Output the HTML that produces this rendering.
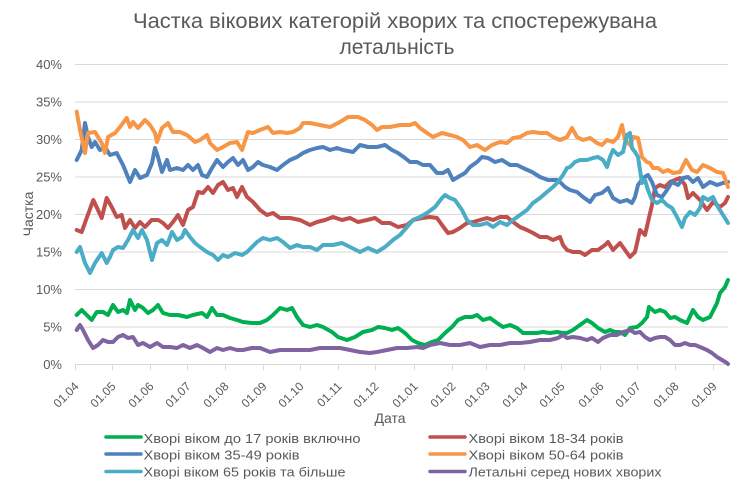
<!DOCTYPE html>
<html><head><meta charset="utf-8"><style>
html,body{margin:0;padding:0;background:#fff;}
svg{display:block;}
text{font-family:"Liberation Sans","DejaVu Sans",sans-serif;fill:#595959;}
</style></head><body>
<svg width="743" height="496" viewBox="0 0 743 496" xmlns="http://www.w3.org/2000/svg">
<rect width="743" height="496" fill="#fff"/>
<text x="395" y="28" font-size="21" text-anchor="middle" textLength="524" lengthAdjust="spacingAndGlyphs">Частка вікових категорій хворих та спостережувана</text>
<text x="397" y="54" font-size="21" text-anchor="middle" textLength="115" lengthAdjust="spacingAndGlyphs">летальність</text>
<g stroke="#d9d9d9" stroke-width="1">
<line x1="75" y1="64.5" x2="728" y2="64.5"/>
<line x1="75" y1="102" x2="728" y2="102"/>
<line x1="75" y1="139.5" x2="728" y2="139.5"/>
<line x1="75" y1="177" x2="728" y2="177"/>
<line x1="75" y1="214.5" x2="728" y2="214.5"/>
<line x1="75" y1="252" x2="728" y2="252"/>
<line x1="75" y1="289.5" x2="728" y2="289.5"/>
<line x1="75" y1="327" x2="728" y2="327"/>
<line x1="75" y1="364.5" x2="728" y2="364.5"/>
</g>
<g stroke="#d9d9d9" stroke-width="1">
<line x1="75.5" y1="365" x2="75.5" y2="370"/>
<line x1="112.5" y1="365" x2="112.5" y2="370"/>
<line x1="150.5" y1="365" x2="150.5" y2="370"/>
<line x1="187.5" y1="365" x2="187.5" y2="370"/>
<line x1="225.5" y1="365" x2="225.5" y2="370"/>
<line x1="263.5" y1="365" x2="263.5" y2="370"/>
<line x1="300.5" y1="365" x2="300.5" y2="370"/>
<line x1="338.5" y1="365" x2="338.5" y2="370"/>
<line x1="375.5" y1="365" x2="375.5" y2="370"/>
<line x1="414.5" y1="365" x2="414.5" y2="370"/>
<line x1="452.5" y1="365" x2="452.5" y2="370"/>
<line x1="486.5" y1="365" x2="486.5" y2="370"/>
<line x1="524.5" y1="365" x2="524.5" y2="370"/>
<line x1="561.5" y1="365" x2="561.5" y2="370"/>
<line x1="600.5" y1="365" x2="600.5" y2="370"/>
<line x1="637.5" y1="365" x2="637.5" y2="370"/>
<line x1="675.5" y1="365" x2="675.5" y2="370"/>
<line x1="713.5" y1="365" x2="713.5" y2="370"/>
</g>
<g font-size="13" text-anchor="end">
<text x="62" y="69">40%</text>
<text x="62" y="106.5">35%</text>
<text x="62" y="144">30%</text>
<text x="62" y="181.5">25%</text>
<text x="62" y="219">20%</text>
<text x="62" y="256.5">15%</text>
<text x="62" y="294">10%</text>
<text x="62" y="331.5">5%</text>
<text x="62" y="369">0%</text>
</g>
<text transform="translate(33,214) rotate(-90)" font-size="14" text-anchor="middle">Частка</text>
<g font-size="12" text-anchor="end">
<text transform="translate(79.5,387) rotate(-45)">01.04</text>
<text transform="translate(116.5,387) rotate(-45)">01.05</text>
<text transform="translate(154.5,387) rotate(-45)">01.06</text>
<text transform="translate(191.5,387) rotate(-45)">01.07</text>
<text transform="translate(229.5,387) rotate(-45)">01.08</text>
<text transform="translate(267.5,387) rotate(-45)">01.09</text>
<text transform="translate(304.5,387) rotate(-45)">01.10</text>
<text transform="translate(342.5,387) rotate(-45)">01.11</text>
<text transform="translate(379.5,387) rotate(-45)">01.12</text>
<text transform="translate(418.5,387) rotate(-45)">01.01</text>
<text transform="translate(456.5,387) rotate(-45)">01.02</text>
<text transform="translate(490.5,387) rotate(-45)">01.03</text>
<text transform="translate(528.5,387) rotate(-45)">01.04</text>
<text transform="translate(565.5,387) rotate(-45)">01.05</text>
<text transform="translate(604.5,387) rotate(-45)">01.06</text>
<text transform="translate(641.5,387) rotate(-45)">01.07</text>
<text transform="translate(679.5,387) rotate(-45)">01.08</text>
<text transform="translate(717.5,387) rotate(-45)">01.09</text>
</g>
<text x="390" y="423" font-size="14" text-anchor="middle">Дата</text>
<g fill="none" stroke-width="4" stroke-linejoin="round" stroke-linecap="round">
<polyline stroke="#00B050" points="76.7,315 81.7,310 86.7,315 91.7,320 96.7,312 103,312 108,315 113,305 118,312 123,310 127,313 130,300 135,310 138,305 143,308 148,313 153,310 158,305 163,313 170,315 178,315 187,317 193,315 202,313 207,317 212,308 217,315 223,315 230,318 237,320 243,322 252,323 260,323 267,320 273,315 280,308 287,310 292,308 297,317 303,325 310,327 317,325 323,327 332,332 338,337 347,340 355,337 363,332 372,330 378,327 385,328 392,330 398,328 405,333 412,340 418,343 425,345 432,342 438,340 445,333 452,327 458,320 465,317 472,317 477,315 483,320 490,318 497,323 503,327 510,325 517,328 523,333 530,333 537,333 543,332 550,333 557,332 563,333 567,333 573,330 580,325 587,320 592,323 598,328 605,332 610,330 615,332 620,332 625,335 630,328 637,327 642,323 647,317 649,307 655,312 660,310 665,312 670,318 675,317 680,320 687,323 693,310 698,317 703,320 710,317 717,303 720,293 725,287 728,280"/>
<polyline stroke="#C0504D" points="76.7,230 81.7,232 86.7,218 93.3,200 98,210 101.7,218 106.7,198 111.7,207 116.7,217 121.7,215 125,228 130,220 135,228 140,222 145,227 151.7,220 158.3,220 163,223 168,228 173,222 178,215 183,225 188,210 193,207 198,192 203,193 208,187 213,193 218,185 223,182 228,190 233,188 237,197 242,187 247,197 253,202 260,210 267,215 273,213 280,218 290,218 300,220 310,225 317,222 325,220 333,217 342,220 350,218 358,222 367,220 375,218 382,223 390,223 398,227 407,225 413,220 422,218 430,217 437,218 442,225 448,233 453,232 460,228 467,223 473,222 480,220 487,218 493,220 500,217 507,217 513,222 520,227 527,230 533,233 540,237 547,237 553,240 560,237 563,245 567,250 573,252 580,252 585,255 592,250 598,250 605,245 608,242 613,250 620,243 625,250 630,257 635,252 640,230 645,235 648,222 652,205 655,188 660,185 665,187 670,182 675,180 680,178 685,185 688,198 693,193 700,200 707,210 713,202 720,207 725,203 728,197"/>
<polyline stroke="#4F81BD" points="76.7,160 81.7,150 85,123 88,137 91.7,147 95,142 100,150 105,147 110,155 116.7,153 123,165 130,182 135,170 140,178 147,175 152,163 155,148 158,157 162,172 167,160 170,170 177,168 183,170 188,165 193,170 198,165 202,175 207,177 212,168 217,160 223,167 228,162 233,158 238,165 243,160 248,170 253,167 258,162 263,165 270,167 277,170 283,165 290,160 297,157 303,153 310,150 317,148 323,147 330,150 337,148 343,150 353,152 360,145 368,147 377,147 385,145 392,150 398,153 405,158 410,162 417,162 423,165 430,165 437,173 443,173 448,170 453,180 458,177 465,173 470,167 477,162 482,157 488,158 495,162 502,160 510,165 517,165 523,168 532,172 540,177 548,180 557,180 560,182 565,187 570,190 577,192 583,197 590,202 595,195 602,193 608,188 613,198 620,202 627,200 632,203 635,197 638,185 643,178 648,175 652,182 657,195 662,197 667,190 672,182 678,185 683,178 688,177 693,182 698,178 703,187 710,182 717,185 723,183 728,182"/>
<polyline stroke="#F79646" points="76.7,111.7 80,130 85,153 88,133 95,132 101.7,143 105,153 108,137 115,133 120,127 126.7,118 130,127 133,122 138,128 145,120 150,125 155,133 157,142 162,128 168,123 173,132 180,132 187,135 195,142 200,140 207,135 210,143 217,150 223,147 230,143 237,142 242,150 248,132 253,133 260,130 268,127 273,133 280,132 287,133 293,132 300,128 303,123 310,123 320,125 330,127 340,122 348,117 358,117 365,120 372,125 377,130 382,127 390,127 400,125 410,125 415,123 420,128 427,133 433,137 442,133 450,135 457,137 463,140 470,147 477,145 485,150 492,145 500,142 507,143 513,138 520,137 527,133 533,132 540,133 547,133 553,137 560,140 567,137 572,128 577,137 583,140 590,138 597,143 602,145 607,140 613,142 618,137 622,125 625,140 630,145 633,137 638,138 642,157 647,162 650,163 653,168 658,168 663,172 668,170 673,173 680,172 686,160 692,170 697,172 703,165 710,168 717,172 723,173 728,187"/>
<polyline stroke="#4BACC6" points="76.7,252 80,247 85,263 90,273 95,263 101.7,253 106.7,263 110,257 113,250 118,247 123,248 128,240 133,230 138,238 142,230 147,240 152,260 157,243 162,240 167,245 172,232 177,240 182,237 185,230 190,237 195,243 200,247 207,252 213,255 218,260 223,255 228,257 235,253 242,255 247,252 252,247 257,242 263,238 270,240 277,238 283,242 290,248 297,245 303,247 310,247 317,250 323,245 333,245 342,243 350,247 360,252 368,248 377,252 385,247 393,240 400,235 407,227 413,220 420,217 427,213 435,207 442,198 445,195 450,198 455,200 462,210 467,220 473,225 480,225 487,223 493,227 500,222 507,225 513,220 520,215 527,210 533,203 540,198 547,192 553,187 558,182 563,175 567,168 570,167 575,162 580,160 587,160 593,158 598,157 603,160 607,167 610,157 613,150 618,155 623,152 627,135 630,133 632,148 635,152 638,157 642,183 645,180 648,190 652,200 657,203 662,200 667,205 672,208 677,217 682,227 685,218 690,212 695,215 700,208 703,197 708,200 713,197 718,207 723,215 728,223"/>
<polyline stroke="#8064A2" points="76.7,330 80,325 83,330 88,340 93,348 98,345 103,340 108,342 113,342 118,337 123,335 128,338 133,337 138,345 143,343 150,347 157,343 163,347 170,347 177,348 183,345 190,348 197,345 203,348 210,352 217,348 223,350 230,348 237,350 243,350 252,348 260,348 270,352 280,350 290,350 300,350 310,350 320,348 330,348 340,348 350,350 360,352 370,353 377,352 387,350 397,348 407,348 417,347 423,348 430,345 440,343 450,345 460,345 470,343 480,347 490,345 500,345 510,343 520,343 530,342 540,340 550,340 558,338 563,335 567,338 573,337 580,338 587,340 592,338 598,342 603,338 610,335 617,335 623,332 630,330 635,333 640,332 645,337 650,340 655,338 660,337 665,337 670,340 675,345 680,345 685,343 690,345 695,345 700,347 707,350 712,353 717,357 722,360 727,363 728,364"/>
</g>
<g stroke-width="3.5" stroke-linecap="round">
<line x1="106" y1="437" x2="141" y2="437" stroke="#00B050"/>
<line x1="106" y1="454" x2="141" y2="454" stroke="#4F81BD"/>
<line x1="106" y1="471.5" x2="141" y2="471.5" stroke="#4BACC6"/>
<line x1="430" y1="437" x2="465" y2="437" stroke="#C0504D"/>
<line x1="430" y1="454" x2="465" y2="454" stroke="#F79646"/>
<line x1="430" y1="471.5" x2="465" y2="471.5" stroke="#8064A2"/>
</g>
<g font-size="13">
<text x="143.5" y="443" textLength="217" lengthAdjust="spacingAndGlyphs">Хворі віком до 17 років включно</text>
<text x="143.5" y="459.5" textLength="156" lengthAdjust="spacingAndGlyphs">Хворі віком 35-49 років</text>
<text x="143.5" y="476.5" textLength="202" lengthAdjust="spacingAndGlyphs">Хворі віком 65 років та більше</text>
<text x="468.5" y="443" textLength="155" lengthAdjust="spacingAndGlyphs">Хворі віком 18-34 років</text>
<text x="468.5" y="459.5" textLength="155" lengthAdjust="spacingAndGlyphs">Хворі віком 50-64 років</text>
<text x="468.5" y="476.5" textLength="193" lengthAdjust="spacingAndGlyphs">Летальні серед нових хворих</text>
</g>
</svg>
</body></html>
